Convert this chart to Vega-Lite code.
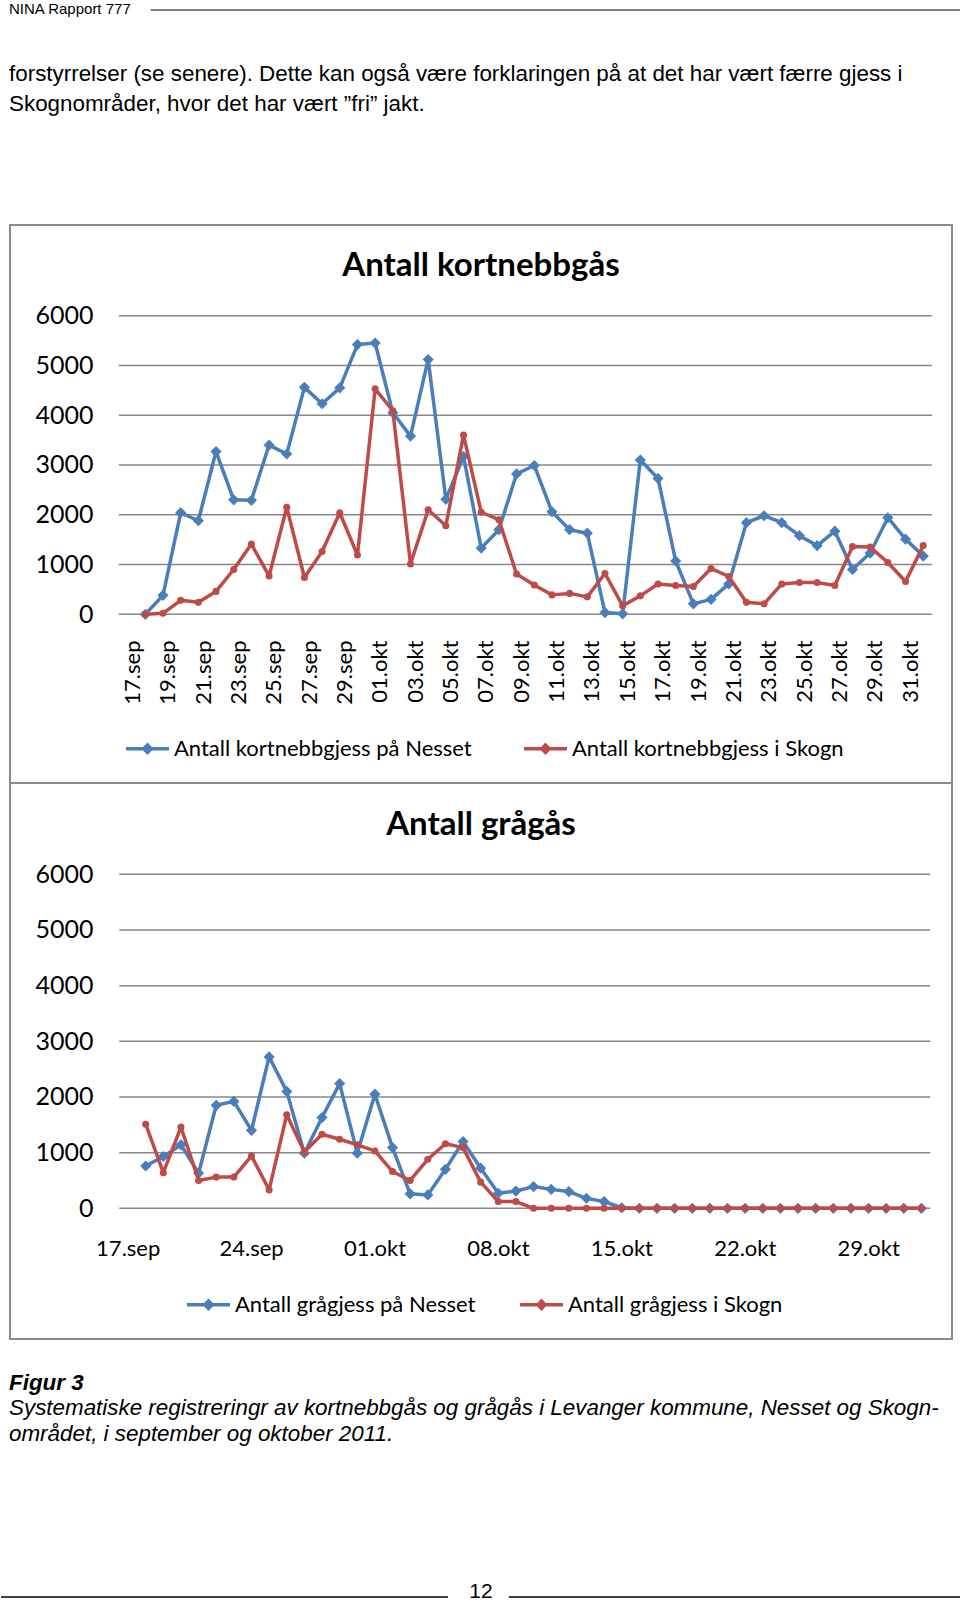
{
"$schema": "https://vega.github.io/schema/vega-lite/v6.json",
"background": "white",
"padding": 0,
"spacing": 0,
"center": true,
"bounds": "flush",
"config": {"view": {"stroke": null}, "font": "Lato"},
"resolve": {"scale": {"color": "independent"}, "legend": {"color": "independent"}},
"datasets": {
"skala": [{"antall":0},{"antall":1000},{"antall":2000},{"antall":3000},{"antall":4000},{"antall":5000},{"antall":6000}],
"kortnebbgaas": [
{"dato":"2011-09-17","serie":"Nesset","antall":0},{"dato":"2011-09-18","serie":"Nesset","antall":380},{"dato":"2011-09-19","serie":"Nesset","antall":2040},{"dato":"2011-09-20","serie":"Nesset","antall":1880},{"dato":"2011-09-21","serie":"Nesset","antall":3270},{"dato":"2011-09-22","serie":"Nesset","antall":2300},{"dato":"2011-09-23","serie":"Nesset","antall":2290},{"dato":"2011-09-24","serie":"Nesset","antall":3400},{"dato":"2011-09-25","serie":"Nesset","antall":3220},{"dato":"2011-09-26","serie":"Nesset","antall":4560},{"dato":"2011-09-27","serie":"Nesset","antall":4230},{"dato":"2011-09-28","serie":"Nesset","antall":4550},{"dato":"2011-09-29","serie":"Nesset","antall":5420},{"dato":"2011-09-30","serie":"Nesset","antall":5450},{"dato":"2011-10-01","serie":"Nesset","antall":4050},{"dato":"2011-10-02","serie":"Nesset","antall":3580},{"dato":"2011-10-03","serie":"Nesset","antall":5120},{"dato":"2011-10-04","serie":"Nesset","antall":2310},{"dato":"2011-10-05","serie":"Nesset","antall":3170},{"dato":"2011-10-06","serie":"Nesset","antall":1330},{"dato":"2011-10-07","serie":"Nesset","antall":1700},{"dato":"2011-10-08","serie":"Nesset","antall":2820},{"dato":"2011-10-09","serie":"Nesset","antall":2990},{"dato":"2011-10-10","serie":"Nesset","antall":2060},{"dato":"2011-10-11","serie":"Nesset","antall":1700},{"dato":"2011-10-12","serie":"Nesset","antall":1630},{"dato":"2011-10-13","serie":"Nesset","antall":35},{"dato":"2011-10-14","serie":"Nesset","antall":10},{"dato":"2011-10-15","serie":"Nesset","antall":3100},{"dato":"2011-10-16","serie":"Nesset","antall":2730},{"dato":"2011-10-17","serie":"Nesset","antall":1070},{"dato":"2011-10-18","serie":"Nesset","antall":210},{"dato":"2011-10-19","serie":"Nesset","antall":300},{"dato":"2011-10-20","serie":"Nesset","antall":610},{"dato":"2011-10-21","serie":"Nesset","antall":1840},{"dato":"2011-10-22","serie":"Nesset","antall":1980},{"dato":"2011-10-23","serie":"Nesset","antall":1840},{"dato":"2011-10-24","serie":"Nesset","antall":1580},{"dato":"2011-10-25","serie":"Nesset","antall":1380},{"dato":"2011-10-26","serie":"Nesset","antall":1670},{"dato":"2011-10-27","serie":"Nesset","antall":900},{"dato":"2011-10-28","serie":"Nesset","antall":1230},{"dato":"2011-10-29","serie":"Nesset","antall":1940},{"dato":"2011-10-30","serie":"Nesset","antall":1510},{"dato":"2011-10-31","serie":"Nesset","antall":1170},
{"dato":"2011-09-17","serie":"Skogn","antall":0},{"dato":"2011-09-18","serie":"Skogn","antall":20},{"dato":"2011-09-19","serie":"Skogn","antall":280},{"dato":"2011-09-20","serie":"Skogn","antall":240},{"dato":"2011-09-21","serie":"Skogn","antall":460},{"dato":"2011-09-22","serie":"Skogn","antall":900},{"dato":"2011-09-23","serie":"Skogn","antall":1410},{"dato":"2011-09-24","serie":"Skogn","antall":770},{"dato":"2011-09-25","serie":"Skogn","antall":2150},{"dato":"2011-09-26","serie":"Skogn","antall":740},{"dato":"2011-09-27","serie":"Skogn","antall":1260},{"dato":"2011-09-28","serie":"Skogn","antall":2040},{"dato":"2011-09-29","serie":"Skogn","antall":1190},{"dato":"2011-09-30","serie":"Skogn","antall":4530},{"dato":"2011-10-01","serie":"Skogn","antall":4090},{"dato":"2011-10-02","serie":"Skogn","antall":1010},{"dato":"2011-10-03","serie":"Skogn","antall":2100},{"dato":"2011-10-04","serie":"Skogn","antall":1780},{"dato":"2011-10-05","serie":"Skogn","antall":3600},{"dato":"2011-10-06","serie":"Skogn","antall":2050},{"dato":"2011-10-07","serie":"Skogn","antall":1900},{"dato":"2011-10-08","serie":"Skogn","antall":810},{"dato":"2011-10-09","serie":"Skogn","antall":590},{"dato":"2011-10-10","serie":"Skogn","antall":390},{"dato":"2011-10-11","serie":"Skogn","antall":420},{"dato":"2011-10-12","serie":"Skogn","antall":350},{"dato":"2011-10-13","serie":"Skogn","antall":820},{"dato":"2011-10-14","serie":"Skogn","antall":170},{"dato":"2011-10-15","serie":"Skogn","antall":370},{"dato":"2011-10-16","serie":"Skogn","antall":610},{"dato":"2011-10-17","serie":"Skogn","antall":580},{"dato":"2011-10-18","serie":"Skogn","antall":560},{"dato":"2011-10-19","serie":"Skogn","antall":920},{"dato":"2011-10-20","serie":"Skogn","antall":760},{"dato":"2011-10-21","serie":"Skogn","antall":240},{"dato":"2011-10-22","serie":"Skogn","antall":210},{"dato":"2011-10-23","serie":"Skogn","antall":610},{"dato":"2011-10-24","serie":"Skogn","antall":640},{"dato":"2011-10-25","serie":"Skogn","antall":640},{"dato":"2011-10-26","serie":"Skogn","antall":580},{"dato":"2011-10-27","serie":"Skogn","antall":1360},{"dato":"2011-10-28","serie":"Skogn","antall":1350},{"dato":"2011-10-29","serie":"Skogn","antall":1040},{"dato":"2011-10-30","serie":"Skogn","antall":660},{"dato":"2011-10-31","serie":"Skogn","antall":1380}
],
"graagaas": [
{"dato":"2011-09-17","serie":"Nesset","antall":760},{"dato":"2011-09-18","serie":"Nesset","antall":930},{"dato":"2011-09-19","serie":"Nesset","antall":1140},{"dato":"2011-09-20","serie":"Nesset","antall":630},{"dato":"2011-09-21","serie":"Nesset","antall":1850},{"dato":"2011-09-22","serie":"Nesset","antall":1920},{"dato":"2011-09-23","serie":"Nesset","antall":1400},{"dato":"2011-09-24","serie":"Nesset","antall":2720},{"dato":"2011-09-25","serie":"Nesset","antall":2100},{"dato":"2011-09-26","serie":"Nesset","antall":990},{"dato":"2011-09-27","serie":"Nesset","antall":1630},{"dato":"2011-09-28","serie":"Nesset","antall":2240},{"dato":"2011-09-29","serie":"Nesset","antall":990},{"dato":"2011-09-30","serie":"Nesset","antall":2050},{"dato":"2011-10-01","serie":"Nesset","antall":1090},{"dato":"2011-10-02","serie":"Nesset","antall":260},{"dato":"2011-10-03","serie":"Nesset","antall":240},{"dato":"2011-10-04","serie":"Nesset","antall":700},{"dato":"2011-10-05","serie":"Nesset","antall":1200},{"dato":"2011-10-06","serie":"Nesset","antall":720},{"dato":"2011-10-07","serie":"Nesset","antall":270},{"dato":"2011-10-08","serie":"Nesset","antall":310},{"dato":"2011-10-09","serie":"Nesset","antall":390},{"dato":"2011-10-10","serie":"Nesset","antall":340},{"dato":"2011-10-11","serie":"Nesset","antall":300},{"dato":"2011-10-12","serie":"Nesset","antall":180},{"dato":"2011-10-13","serie":"Nesset","antall":120},{"dato":"2011-10-14","serie":"Nesset","antall":10},{"dato":"2011-10-15","serie":"Nesset","antall":0},{"dato":"2011-10-16","serie":"Nesset","antall":0},{"dato":"2011-10-17","serie":"Nesset","antall":0},{"dato":"2011-10-18","serie":"Nesset","antall":0},{"dato":"2011-10-19","serie":"Nesset","antall":0},{"dato":"2011-10-20","serie":"Nesset","antall":0},{"dato":"2011-10-21","serie":"Nesset","antall":0},{"dato":"2011-10-22","serie":"Nesset","antall":0},{"dato":"2011-10-23","serie":"Nesset","antall":0},{"dato":"2011-10-24","serie":"Nesset","antall":0},{"dato":"2011-10-25","serie":"Nesset","antall":0},{"dato":"2011-10-26","serie":"Nesset","antall":0},{"dato":"2011-10-27","serie":"Nesset","antall":0},{"dato":"2011-10-28","serie":"Nesset","antall":0},{"dato":"2011-10-29","serie":"Nesset","antall":0},{"dato":"2011-10-30","serie":"Nesset","antall":0},{"dato":"2011-10-31","serie":"Nesset","antall":0},
{"dato":"2011-09-17","serie":"Skogn","antall":1510},{"dato":"2011-09-18","serie":"Skogn","antall":640},{"dato":"2011-09-19","serie":"Skogn","antall":1460},{"dato":"2011-09-20","serie":"Skogn","antall":500},{"dato":"2011-09-21","serie":"Skogn","antall":560},{"dato":"2011-09-22","serie":"Skogn","antall":560},{"dato":"2011-09-23","serie":"Skogn","antall":940},{"dato":"2011-09-24","serie":"Skogn","antall":330},{"dato":"2011-09-25","serie":"Skogn","antall":1680},{"dato":"2011-09-26","serie":"Skogn","antall":1010},{"dato":"2011-09-27","serie":"Skogn","antall":1330},{"dato":"2011-09-28","serie":"Skogn","antall":1240},{"dato":"2011-09-29","serie":"Skogn","antall":1140},{"dato":"2011-09-30","serie":"Skogn","antall":1030},{"dato":"2011-10-01","serie":"Skogn","antall":660},{"dato":"2011-10-02","serie":"Skogn","antall":500},{"dato":"2011-10-03","serie":"Skogn","antall":880},{"dato":"2011-10-04","serie":"Skogn","antall":1160},{"dato":"2011-10-05","serie":"Skogn","antall":1090},{"dato":"2011-10-06","serie":"Skogn","antall":470},{"dato":"2011-10-07","serie":"Skogn","antall":120},{"dato":"2011-10-08","serie":"Skogn","antall":120},{"dato":"2011-10-09","serie":"Skogn","antall":0},{"dato":"2011-10-10","serie":"Skogn","antall":0},{"dato":"2011-10-11","serie":"Skogn","antall":0},{"dato":"2011-10-12","serie":"Skogn","antall":0},{"dato":"2011-10-13","serie":"Skogn","antall":0},{"dato":"2011-10-14","serie":"Skogn","antall":0},{"dato":"2011-10-15","serie":"Skogn","antall":0},{"dato":"2011-10-16","serie":"Skogn","antall":0},{"dato":"2011-10-17","serie":"Skogn","antall":0},{"dato":"2011-10-18","serie":"Skogn","antall":0},{"dato":"2011-10-19","serie":"Skogn","antall":0},{"dato":"2011-10-20","serie":"Skogn","antall":0},{"dato":"2011-10-21","serie":"Skogn","antall":0},{"dato":"2011-10-22","serie":"Skogn","antall":0},{"dato":"2011-10-23","serie":"Skogn","antall":0},{"dato":"2011-10-24","serie":"Skogn","antall":0},{"dato":"2011-10-25","serie":"Skogn","antall":0},{"dato":"2011-10-26","serie":"Skogn","antall":0},{"dato":"2011-10-27","serie":"Skogn","antall":0},{"dato":"2011-10-28","serie":"Skogn","antall":0},{"dato":"2011-10-29","serie":"Skogn","antall":0},{"dato":"2011-10-30","serie":"Skogn","antall":0},{"dato":"2011-10-31","serie":"Skogn","antall":0}
]
},
"vconcat": [
{
"width": 960, "height": 20,
"data": {"values": [{"tekst": "NINA Rapport 777"}]},
"layer": [
{"mark": {"type": "text", "align": "left", "baseline": "middle", "dx": 8, "font": "Liberation Sans", "fontSize": 15, "color": "#000000"},
 "encoding": {"text": {"field": "tekst"}, "x": {"datum": 0, "type": "quantitative", "scale": {"domain": [0, 1]}, "axis": null}, "y": {"datum": 0.45, "type": "quantitative", "scale": {"domain": [0, 1], "reverse": true}, "axis": null}}},
{"mark": {"type": "rule", "color": "#000000", "strokeWidth": 1},
 "encoding": {"x": {"datum": 0.156, "type": "quantitative"}, "x2": {"datum": 1}, "y": {"datum": 0.5, "type": "quantitative"}}}
]
},
{
"width": 960, "height": 205,
"data": {"values": [{"linje": 1, "tekst": "forstyrrelser (se senere). Dette kan også være forklaringen på at det har vært færre gjess i"}, {"linje": 2, "tekst": "Skognområder, hvor det har vært ”fri” jakt."}]},
"mark": {"type": "text", "align": "left", "baseline": "middle", "dx": 8, "font": "Liberation Sans", "fontSize": 22.4, "color": "#000000"},
"encoding": {"text": {"field": "tekst"}, "x": {"datum": 0, "type": "quantitative", "scale": {"domain": [0, 1]}, "axis": null}, "y": {"field": "linje", "type": "quantitative", "scale": {"domain": [-0.8, 6.0333], "reverse": true, "zero": false, "nice": false}, "axis": null}}
},
{
"width": 942, "height": 558,
"view": {"stroke": "#8a8a8a", "strokeWidth": 2},
"title": {"text": "Antall kortnebbgås", "font": "Lato", "fontSize": 33, "fontWeight": "bold", "color": "#000000", "anchor": "middle", "baseline": "middle", "offset": -74},
"encoding": {
 "y": {"field": "antall", "type": "quantitative", "scale": {"domain": [-3390, 7822], "zero": false, "nice": false},
  "axis": {"values": [0, 1000, 2000, 3000, 4000, 5000, 6000], "format": "d", "offset": -83, "labelPadding": 0, "ticks": false, "tickSize": 0, "domain": false, "grid": false, "title": null, "labelFont": "Lato", "labelFontSize": 25, "labelColor": "#000000", "labelAlign": "right", "labelBaseline": "middle", "labelOverlap": false, "labelFlush": false, "labelBound": false}}
},
"layer": [
 {"data": {"name": "skala"}, "mark": {"type": "rule", "color": "#878787", "strokeWidth": 1.5},
  "encoding": {"x": {"datum": {"year": 2011, "month": 9, "date": 15, "hours": 12, "utc": true}, "type": "temporal", "axis": {"title": null}}, "x2": {"datum": {"year": 2011, "month": 10, "date": 31, "hours": 12, "utc": true}}}},
 {"data": {"name": "kortnebbgaas"},
  "encoding": {"x": {"field": "dato", "type": "temporal", "scale": {"type": "utc", "domain": [{"year": 2011, "month": 9, "date": 9, "hours": 8, "minutes": 20, "utc": true}, {"year": 2011, "month": 11, "date": 1, "hours": 15, "minutes": 4, "utc": true}]},
   "axis": {"values": [{"year":2011,"month":9,"date":17,"utc":true},{"year":2011,"month":9,"date":19,"utc":true},{"year":2011,"month":9,"date":21,"utc":true},{"year":2011,"month":9,"date":23,"utc":true},{"year":2011,"month":9,"date":25,"utc":true},{"year":2011,"month":9,"date":27,"utc":true},{"year":2011,"month":9,"date":29,"utc":true},{"year":2011,"month":10,"date":1,"utc":true},{"year":2011,"month":10,"date":3,"utc":true},{"year":2011,"month":10,"date":5,"utc":true},{"year":2011,"month":10,"date":7,"utc":true},{"year":2011,"month":10,"date":9,"utc":true},{"year":2011,"month":10,"date":11,"utc":true},{"year":2011,"month":10,"date":13,"utc":true},{"year":2011,"month":10,"date":15,"utc":true},{"year":2011,"month":10,"date":17,"utc":true},{"year":2011,"month":10,"date":19,"utc":true},{"year":2011,"month":10,"date":21,"utc":true},{"year":2011,"month":10,"date":23,"utc":true},{"year":2011,"month":10,"date":25,"utc":true},{"year":2011,"month":10,"date":27,"utc":true},{"year":2011,"month":10,"date":29,"utc":true},{"year":2011,"month":10,"date":31,"utc":true}],
    "labelExpr": "utcFormat(datum.value, '%d') + (utcFormat(datum.value, '%m') === '09' ? '.sep' : '.okt')",
    "labelAngle": 270, "labelAlign": "right", "labelBaseline": "middle", "labelOffset": -13, "labelPadding": 0, "ticks": false, "tickSize": 0, "domain": false, "grid": false, "title": null, "offset": -143,
    "labelFont": "Lato", "labelFontSize": 22, "labelColor": "#000000", "labelOverlap": false, "labelFlush": false, "labelBound": false}}},
  "layer": [
   {"transform": [{"filter": "datum.serie === 'Nesset'"}], "mark": {"type": "line", "strokeWidth": 3.5, "strokeJoin": "round", "strokeCap": "round"},
    "encoding": {"color": {"field": "serie", "type": "nominal", "scale": {"domain": ["Nesset", "Skogn"], "range": ["#4A7EBB", "#BE4B48"]},
     "legend": {"title": null, "orient": "none", "legendX": 114, "legendY": 500, "direction": "horizontal", "padding": 0, "columnPadding": 45, "labelFont": "Lato", "labelFontSize": 22, "labelColor": "#000000", "labelOffset": 3, "symbolSize": 1849, "symbolStrokeWidth": 3.5, "symbolOpacity": 1, "symbolType": "M-1,0H1M0,-0.17L0.17,0L0,0.17L-0.17,0Z", "labelLimit": 0,
      "labelExpr": "datum.label === 'Nesset' ? 'Antall kortnebbgjess på Nesset' : 'Antall kortnebbgjess i Skogn'"}}}},
   {"transform": [{"filter": "datum.serie === 'Nesset'"}], "mark": {"type": "point", "shape": "diamond", "filled": true, "size": 125, "opacity": 1},
    "encoding": {"color": {"field": "serie", "type": "nominal", "legend": null}}},
   {"transform": [{"filter": "datum.serie === 'Skogn'"}], "mark": {"type": "line", "strokeWidth": 3.5, "strokeJoin": "round", "strokeCap": "round"},
    "encoding": {"color": {"field": "serie", "type": "nominal"}}},
   {"transform": [{"filter": "datum.serie === 'Skogn'"}], "mark": {"type": "point", "shape": "circle", "filled": true, "size": 50, "opacity": 1},
    "encoding": {"color": {"field": "serie", "type": "nominal", "legend": null}}}
  ]}
]
},
{
"width": 942, "height": 556,
"view": {"stroke": "#8a8a8a", "strokeWidth": 2},
"title": {"text": "Antall grågås", "font": "Lato", "fontSize": 33, "fontWeight": "bold", "color": "#000000", "anchor": "middle", "baseline": "middle", "offset": -75},
"encoding": {
 "y": {"field": "antall", "type": "quantitative", "scale": {"domain": [-2348, 7640], "zero": false, "nice": false},
  "axis": {"values": [0, 1000, 2000, 3000, 4000, 5000, 6000], "format": "d", "offset": -83, "labelPadding": 0, "ticks": false, "tickSize": 0, "domain": false, "grid": false, "title": null, "labelFont": "Lato", "labelFontSize": 25, "labelColor": "#000000", "labelAlign": "right", "labelBaseline": "middle", "labelOverlap": false, "labelFlush": false, "labelBound": false}}
},
"layer": [
 {"data": {"name": "skala"}, "mark": {"type": "rule", "color": "#878787", "strokeWidth": 1.5},
  "encoding": {"x": {"datum": {"year": 2011, "month": 9, "date": 15, "hours": 12, "utc": true}, "type": "temporal", "axis": {"title": null}}, "x2": {"datum": {"year": 2011, "month": 10, "date": 31, "hours": 12, "utc": true}}}},
 {"data": {"name": "graagaas"},
  "encoding": {"x": {"field": "dato", "type": "temporal", "scale": {"type": "utc", "domain": [{"year": 2011, "month": 9, "date": 9, "hours": 7, "minutes": 16, "utc": true}, {"year": 2011, "month": 11, "date": 1, "hours": 17, "minutes": 37, "utc": true}]},
   "axis": {"values": [{"year":2011,"month":9,"date":17,"utc":true},{"year":2011,"month":9,"date":24,"utc":true},{"year":2011,"month":10,"date":1,"utc":true},{"year":2011,"month":10,"date":8,"utc":true},{"year":2011,"month":10,"date":15,"utc":true},{"year":2011,"month":10,"date":22,"utc":true},{"year":2011,"month":10,"date":29,"utc":true}],
    "labelExpr": "utcFormat(datum.value, '%d') + (utcFormat(datum.value, '%m') === '09' ? '.sep' : '.okt')",
    "labelAngle": 0, "labelAlign": "center", "labelBaseline": "middle", "labelOffset": -18, "labelPadding": 0, "ticks": false, "tickSize": 0, "domain": false, "grid": false, "title": null, "offset": -91,
    "labelFont": "Lato", "labelFontSize": 22, "labelColor": "#000000", "labelOverlap": false, "labelFlush": false, "labelBound": false}}},
  "layer": [
   {"transform": [{"filter": "datum.serie === 'Nesset'"}], "mark": {"type": "line", "strokeWidth": 3.5, "strokeJoin": "round", "strokeCap": "round"},
    "encoding": {"color": {"field": "serie", "type": "nominal", "scale": {"domain": ["Nesset", "Skogn"], "range": ["#4A7EBB", "#BE4B48"]},
     "legend": {"title": null, "orient": "none", "legendX": 175, "legendY": 498, "direction": "horizontal", "padding": 0, "columnPadding": 37, "labelFont": "Lato", "labelFontSize": 22, "labelColor": "#000000", "labelOffset": 3, "symbolSize": 1849, "symbolStrokeWidth": 3.5, "symbolOpacity": 1, "symbolType": "M-1,0H1M0,-0.17L0.17,0L0,0.17L-0.17,0Z", "labelLimit": 0,
      "labelExpr": "datum.label === 'Nesset' ? 'Antall grågjess på Nesset' : 'Antall grågjess i Skogn'"}}}},
   {"transform": [{"filter": "datum.serie === 'Nesset'"}], "mark": {"type": "point", "shape": "diamond", "filled": true, "size": 125, "opacity": 1},
    "encoding": {"color": {"field": "serie", "type": "nominal", "legend": null}}},
   {"transform": [{"filter": "datum.serie === 'Skogn'"}], "mark": {"type": "line", "strokeWidth": 3.5, "strokeJoin": "round", "strokeCap": "round"},
    "encoding": {"color": {"field": "serie", "type": "nominal"}}},
   {"transform": [{"filter": "datum.serie === 'Skogn'"}], "mark": {"type": "point", "shape": "circle", "filled": true, "size": 50, "opacity": 1},
    "encoding": {"color": {"field": "serie", "type": "nominal", "legend": null}}}
  ]}
]
},
{
"width": 960, "height": 201,
"data": {"values": [{"linje": 1, "tekst": "Figur 3"}, {"linje": 2, "tekst": "Systematiske registreringr av kortnebbgås og grågås i Levanger kommune, Nesset og Skogn-"}, {"linje": 3, "tekst": "området, i september og oktober 2011."}]},
"encoding": {"text": {"field": "tekst"}, "x": {"datum": 0, "type": "quantitative", "scale": {"domain": [0, 1]}, "axis": null}, "y": {"field": "linje", "type": "quantitative", "scale": {"domain": [-0.7255, 7.157], "reverse": true, "zero": false, "nice": false}, "axis": null}},
"layer": [
 {"transform": [{"filter": "datum.linje === 1"}], "mark": {"type": "text", "align": "left", "baseline": "middle", "dx": 8, "font": "Liberation Sans", "fontSize": 22.4, "fontStyle": "italic", "fontWeight": "bold", "color": "#000000"}},
 {"transform": [{"filter": "datum.linje > 1"}], "mark": {"type": "text", "align": "left", "baseline": "middle", "dx": 8, "font": "Liberation Sans", "fontSize": 22.4, "fontStyle": "italic", "color": "#000000"}}
]
},
{
"width": 960, "height": 64,
"data": {"values": [{"side": "12"}]},
"layer": [
 {"mark": {"type": "text", "align": "center", "baseline": "middle", "font": "Liberation Sans", "fontSize": 21, "color": "#000000"},
  "encoding": {"text": {"field": "side"}, "x": {"datum": 0.5, "type": "quantitative", "scale": {"domain": [0, 1]}, "axis": null}, "y": {"datum": 0.8125, "type": "quantitative", "scale": {"domain": [0, 1], "reverse": true}, "axis": null}}},
 {"mark": {"type": "rule", "color": "#000000", "strokeWidth": 1.5},
  "encoding": {"x": {"datum": 0, "type": "quantitative"}, "x2": {"datum": 0.4656}, "y": {"datum": 0.89, "type": "quantitative"}}},
 {"mark": {"type": "rule", "color": "#000000", "strokeWidth": 1.5},
  "encoding": {"x": {"datum": 0.529, "type": "quantitative"}, "x2": {"datum": 1}, "y": {"datum": 0.89, "type": "quantitative"}}}
]
}
]
}
